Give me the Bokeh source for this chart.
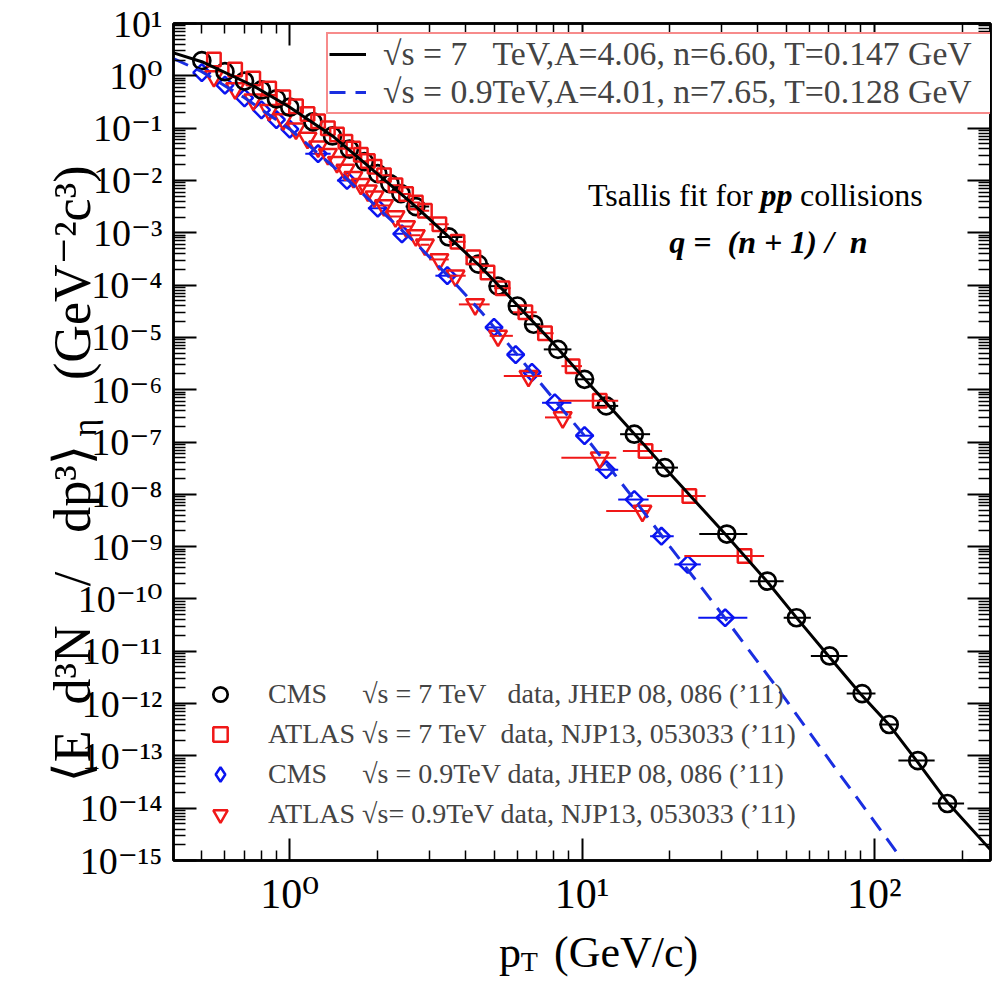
import numpy as np
from bokeh.plotting import figure
from bokeh.models import (FixedTicker, CustomJSTickFormatter, LogAxis, Legend,
                          LegendItem, Label)
from bokeh.embed import file_html
from bokeh.resources import INLINE

# ---------------- data ----------------
# CMS sqrt(s)=7 TeV  (black open circles)
cms7_pt = [0.5, 0.6, 0.7, 0.8, 0.9, 1.0, 1.2, 1.4, 1.6, 1.8, 2.0, 2.2, 2.4, 2.7, 3.5,
           4.42, 5.16, 6.01, 6.83, 8.27, 10.2, 12.1, 15.1, 19.2, 31.3, 43.1, 54.2,
           70.4, 90.9, 112.5, 141, 178]
cms7_y = [1.95, 1.20, 0.794, 0.537, 0.363, 0.251, 0.132, 0.0708, 0.0398, 0.0229,
          0.0135, 8.71e-3, 5.62e-3, 3.16e-3, 8.32e-4, 2.51e-4, 9.55e-5, 3.98e-5,
          1.78e-5, 5.89e-6, 1.58e-6, 4.90e-7, 1.41e-7, 3.24e-8, 1.74e-9, 2.19e-10,
          4.37e-11, 8.13e-12, 1.55e-12, 3.98e-13, 8.13e-14, 1.23e-14]
cms7_lo = [0.5, 0.6, 0.7, 0.8, 0.9, 1.0, 1.2, 1.4, 1.6, 1.8, 2.0, 2.2, 2.4, 2.49, 3.2,
           4.0, 4.8, 5.6, 6.4, 7.4, 9.6, 11.1, 13.5, 17.4, 25.2, 37.5, 49.0,
           60.7, 80.5, 104, 121, 158]
cms7_hi = [0.5, 0.6, 0.7, 0.8, 0.9, 1.0, 1.2, 1.4, 1.6, 1.8, 2.0, 2.2, 2.4, 3.0, 3.9,
           4.8, 5.6, 6.4, 7.2, 9.2, 11.0, 13.3, 17.1, 21.3, 36.8, 49.0, 60.7,
           81.0, 101, 121, 161, 203]

# ATLAS sqrt(s)=7 TeV  (red open squares)
atl7_pt = [0.55, 0.65, 0.75, 0.85, 0.95, 1.05, 1.15, 1.25, 1.35, 1.45, 1.55, 1.65,
           1.75, 1.85, 1.95, 2.1, 2.3, 2.5, 2.7, 2.9, 3.25, 3.75, 4.25, 4.75, 5.35,
           6.4, 7.47, 9.29, 11.5, 16.5, 23.3, 36.0]
atl7_y = [2.04, 1.32, 0.891, 0.575, 0.389, 0.263, 0.186, 0.135, 0.100, 0.0759,
          0.0550, 0.0407, 0.0309, 0.0234, 0.0182, 0.0126, 8.13e-3, 5.50e-3, 3.80e-3,
          2.63e-3, 1.45e-3, 6.76e-4, 3.39e-4, 1.74e-4, 8.71e-5, 3.02e-5, 1.20e-5,
          2.82e-6, 6.17e-7, 6.76e-8, 9.33e-9, 6.61e-10]
atl7_lo = [0.55, 0.65, 0.75, 0.85, 0.95, 1.05, 1.15, 1.25, 1.35, 1.45, 1.55, 1.65,
           1.75, 1.85, 1.95, 2.0, 2.2, 2.4, 2.6, 2.8, 3.0, 3.5, 4.0, 4.5, 5.0,
           5.8, 7.0, 8.5, 8.3, 13.8, 16.7, 22.4]
atl7_hi = [0.55, 0.65, 0.75, 0.85, 0.95, 1.05, 1.15, 1.25, 1.35, 1.45, 1.55, 1.65,
           1.75, 1.85, 1.95, 2.2, 2.4, 2.6, 2.8, 3.0, 3.5, 4.0, 4.5, 5.0, 5.7,
           7.0, 8.0, 10.0, 13.3, 18.8, 26.5, 42.0]

# CMS sqrt(s)=0.9 TeV  (blue open diamonds)
cms09_pt = [0.5, 0.6, 0.7, 0.8, 0.9, 1.0, 1.25, 1.57, 2.0, 2.42, 3.46, 5.0, 5.93,
            6.74, 8.07, 10.2, 12.1, 15.1, 18.7, 23.0, 30.9]
cms09_y = [1.15, 0.661, 0.380, 0.224, 0.145, 0.0955, 0.0324, 0.0100, 2.95e-3,
           9.55e-4, 1.51e-4, 1.55e-5, 4.68e-6, 2.14e-6, 5.62e-7, 1.32e-7, 2.95e-8,
           7.94e-9, 1.58e-9, 4.57e-10, 4.37e-11]
cms09_lo = [0.5, 0.6, 0.7, 0.8, 0.9, 1.0, 1.13, 1.45, 1.85, 2.25, 3.15, 4.7, 5.6,
            6.4, 7.3, 9.6, 11.1, 13.3, 17.1, 20.7, 25.0]
cms09_hi = [0.5, 0.6, 0.7, 0.8, 0.9, 1.0, 1.38, 1.70, 2.15, 2.60, 3.75, 5.3, 6.3,
            7.1, 9.2, 11.0, 13.3, 16.9, 20.6, 25.5, 36.8]

# ATLAS sqrt(s)=0.9 TeV  (red open down-triangles)
atl09_pt = [0.55, 0.65, 0.75, 0.85, 0.95, 1.05, 1.15, 1.25, 1.35, 1.45, 1.55, 1.65,
            1.75, 1.85, 1.95, 2.1, 2.3, 2.5, 2.7, 2.9, 3.25, 3.69, 4.31, 5.16, 6.56,
            8.59, 11.5, 16.1]
atl09_y = [0.977, 0.575, 0.350, 0.221, 0.147, 0.0977, 0.0646, 0.0443, 0.0316,
           0.0224, 0.0158, 0.0115, 8.51e-3, 6.38e-3, 4.90e-3, 3.31e-3, 2.04e-3,
           1.32e-3, 8.91e-4, 5.89e-4, 3.09e-4, 1.51e-4, 4.27e-5, 1.07e-5, 1.82e-6,
           2.95e-7, 5.01e-8, 4.79e-9]
atl09_lo = [0.55, 0.65, 0.75, 0.85, 0.95, 1.05, 1.15, 1.25, 1.35, 1.45, 1.55, 1.65,
            1.75, 1.85, 1.95, 2.0, 2.2, 2.4, 2.6, 2.8, 3.0, 3.5, 3.79, 4.83, 5.4,
            7.47, 8.5, 12.1]
atl09_hi = [0.55, 0.65, 0.75, 0.85, 0.95, 1.05, 1.15, 1.25, 1.35, 1.45, 1.55, 1.65,
            1.75, 1.85, 1.95, 2.2, 2.4, 2.6, 2.8, 3.0, 3.5, 4.0, 4.83, 5.8, 7.3,
            9.2, 13.1, 16.9]

# Tsallis fit curves
fit7_pt = [0.4, 0.5, 0.75, 1.0, 1.4, 2.0, 2.7, 3.5, 4.5, 6.0, 8.0, 10.2, 15, 20, 31,
           43, 55, 70, 90, 113, 140, 178, 250]
fit7_y = [2.75, 1.86, 0.646, 0.251, 0.0708, 0.0132, 3.16e-3, 8.32e-4, 2.24e-4,
          4.17e-5, 7.59e-6, 1.62e-6, 1.48e-7, 2.51e-8, 1.70e-9, 2.15e-10, 3.98e-11,
          7.94e-12, 1.51e-12, 3.8e-13, 7.94e-14, 1.3e-14, 1.6e-15]
fit09_pt = [0.4, 0.5, 0.7, 1.0, 1.4, 2.0, 2.7, 3.5, 4.5, 6.0, 8.0, 10.2, 15, 20, 31,
            48, 75, 100, 125, 135]
fit09_y = [2.14, 1.20, 0.380, 0.0955, 0.0191, 3.02e-3, 6.31e-4, 1.45e-4, 3.16e-5,
           4.68e-6, 6.61e-7, 1.32e-7, 8.32e-9, 1.0e-9, 4.17e-11, 1.58e-12, 5.01e-14,
           5.62e-15, 1.0e-15, 5.6e-16]

x_major = [1, 10, 100]
x_minor = [0.4, 0.5, 0.6, 0.7, 0.8, 0.9, 2, 3, 4, 5, 6, 7, 8, 9,
           20, 30, 40, 50, 60, 70, 80, 90, 200]
y_exponents = list(range(-15, 2))

NB = "\u00a0"
fit7_label = "√s = 7" + NB * 3 + "TeV,A=4.06, n=6.60, T=0.147 GeV"
fit09_label = "√s = 0.9TeV,A=4.01, n=7.65, T=0.128 GeV"
leg_labels = ["CMS" + NB * 5 + "√s = 7 TeV" + NB * 3 + "data, JHEP 08, 086 (’11)",
              "ATLAS √s = 7 TeV" + NB * 2 + "data, NJP13, 053033 (’11)",
              "CMS" + NB * 5 + "√s = 0.9TeV data, JHEP 08, 086 (’11)",
              "ATLAS √s= 0.9TeV data, NJP13, 053033 (’11)"]
x_title = "p" + NB * 3 + "(GeV/c)"
x_title_sub = "T"
y_title = ("⟨E" + NB * 2 + "d³N" + NB * 3 + "/" + NB * 3 + "dp³⟩" + NB * 5 + "(GeV⁻²c³)")
y_title_sub = "η"

# ---------------- figure ----------------
FONT = "Liberation Serif, DejaVu Serif"
W, H = 992, 978
PG = 8
FL, FR, FT, FB = 170, 998, 31, 868          # frame edges in page pixels
XMIN, XMAX, YMIN, YMAX = 0.4, 250.0, 1e-15, 10.0

p = figure(width=W, height=H, x_axis_type="log", y_axis_type="log",
           x_range=(XMIN, XMAX), y_range=(YMIN, YMAX),
           output_backend="svg", toolbar_location=None,
           min_border_left=FL - PG, min_border_right=W - (FR - PG),
           min_border_top=FT - PG, min_border_bottom=H - (FB - PG))
p.grid.visible = False
p.outline_line_color = "black"
p.outline_line_width = 2.5
p.background_fill_color = "white"
p.border_fill_color = "white"


def px_x(X):
    lx0, lx1 = np.log10(XMIN), np.log10(XMAX)
    return 10 ** (lx0 + (X - FL) / (FR - FL) * (lx1 - lx0))


def px_y(Y):
    ly0, ly1 = np.log10(YMIN), np.log10(YMAX)
    return 10 ** (ly1 - (Y - FT) / (FB - FT) * (ly1 - ly0))


xt = FixedTicker(ticks=x_major, minor_ticks=x_minor)
yt = FixedTicker(ticks=[10.0 ** e for e in y_exponents],
                 minor_ticks=[m * 10.0 ** e for e in y_exponents[:-1] for m in range(2, 10)])

sup_code = """
const e = Math.round(Math.log10(tick));
const m = {"-":"\\u207b","0":"\\u2070","1":"\\u00b9","2":"\\u00b2","3":"\\u00b3",
           "4":"\\u2074","5":"\\u2075","6":"\\u2076","7":"\\u2077","8":"\\u2078","9":"\\u2079"};
let s = "";
for (const c of String(e)) { s += m[c]; }
return "10" + s;
"""


def style_axis(ax, ticker, show, fsize, standoff, major_len, minor_len):
    ax.ticker = ticker
    ax.axis_line_width = 2.5
    ax.axis_line_color = "black"
    ax.major_tick_line_width = 2
    ax.minor_tick_line_width = 1.5
    ax.major_tick_in = major_len
    ax.major_tick_out = 0
    ax.minor_tick_in = minor_len
    ax.minor_tick_out = 0
    if show:
        ax.formatter = CustomJSTickFormatter(code=sup_code)
        ax.major_label_text_font = FONT
        ax.major_label_text_font_size = fsize
        ax.major_label_text_color = "black"
        ax.major_label_standoff = standoff
    else:
        ax.formatter = CustomJSTickFormatter(code="return '';")
        ax.major_label_text_font_size = "0px"
        ax.major_label_standoff = 0


style_axis(p.xaxis[0], xt, True, "42px", 10, 22, 10)
style_axis(p.yaxis[0], yt, True, "38px", 11, 23, 12)
top_ax = LogAxis()
right_ax = LogAxis()
style_axis(top_ax, xt, False, "0px", 0, 22, 10)
style_axis(right_ax, yt, False, "0px", 0, 23, 12)
p.add_layout(top_ax, "above")
p.add_layout(right_ax, "right")

# ---------------- data marks ----------------
RED = "#f01818"
BLUE = "#0a14f0"
p.segment(x0=cms09_lo, y0=cms09_y, x1=cms09_hi, y1=cms09_y, line_color=BLUE, line_width=2)
p.scatter(cms09_pt, cms09_y, marker="square", angle=np.pi / 4, size=12,
          line_color=BLUE, line_width=2.5, fill_color=None)
p.segment(x0=atl09_lo, y0=atl09_y, x1=atl09_hi, y1=atl09_y, line_color=RED, line_width=2)
r_t = p.scatter(atl09_pt, atl09_y, marker="inverted_triangle", size=18,
                line_color=RED, line_width=2.5, fill_color=None)
p.segment(x0=cms7_lo, y0=cms7_y, x1=cms7_hi, y1=cms7_y, line_color="black", line_width=2)
r_c = p.scatter(cms7_pt, cms7_y, marker="circle", size=17,
                line_color="black", line_width=2.7, fill_color=None)
p.segment(x0=atl7_lo, y0=atl7_y, x1=atl7_hi, y1=atl7_y, line_color=RED, line_width=2)
r_s = p.scatter(atl7_pt, atl7_y, marker="square", size=13.5,
                line_color=RED, line_width=2.5, fill_color=None)
# hidden copy of the CMS 0.9 TeV points, used only for the legend's diamond symbol
r_dleg = p.scatter(cms09_pt, cms09_y, marker="diamond", size=14,
                   line_color=BLUE, line_width=2.5, fill_color=None, visible=False)

l7 = p.line(fit7_pt, fit7_y, line_color="black", line_width=3)
l09 = p.line(fit09_pt, fit09_y, line_color="#1a2ee0", line_width=3, line_dash="16 10")

# ---------------- legends ----------------
leg1 = Legend(items=[LegendItem(label=fit7_label, renderers=[l7]),
                     LegendItem(label=fit09_label, renderers=[l09])],
              location=(323 - FL, FB - 122),
              label_text_font=FONT, label_text_font_size="33.7px",
              glyph_width=37, glyph_height=30, label_standoff=17, label_width=606,
              padding=1, spacing=-9, margin=0,
              border_line_color=RED, border_line_width=2,
              background_fill_color="white", background_fill_alpha=1.0)
p.add_layout(leg1)

leg2 = Legend(items=[LegendItem(label=leg_labels[0], renderers=[r_c]),
                     LegendItem(label=leg_labels[1], renderers=[r_s]),
                     LegendItem(label=leg_labels[2], renderers=[r_dleg]),
                     LegendItem(label=leg_labels[3], renderers=[r_t])],
              location=(199 - FL, FB - 840),
              label_text_font=FONT, label_text_font_size="28px",
              glyph_width=36, glyph_height=36, label_standoff=30,
              padding=0, spacing=4, margin=0,
              border_line_color=None, background_fill_alpha=0.0,
              inactive_fill_alpha=0.0)
p.add_layout(leg2)


# ---------------- texts ----------------
def lab(text, X, Y, size, style="normal", align="left", baseline="alphabetic",
        angle=0, place=None):
    l = Label(x=px_x(X), y=px_y(Y), x_units="data", y_units="data", text=text,
              text_font=FONT, text_font_size=size, text_font_style=style,
              text_align=align, text_baseline=baseline, text_color="black",
              angle=angle, angle_units="deg")
    if place is None:
        p.add_layout(l)
    else:
        p.add_layout(l, place)


lab("Tsallis fit for", 590, 202, "32px")
lab("pp", 765, 202, "32px", "bold italic")
lab("collisions", 805, 202, "32px")
lab("q =" + NB * 2 + "(n + 1) /" + NB * 2 + "n", 773, 249, "32px", "bold italic", "center")

# axis titles live in the side panels (outside the frame)
lab(x_title, 500, 960, "44px", place="below")
lab(x_title_sub, 522, 969, "28px", place="left")
lab(y_title, 68, 790, "52px", angle=90, place="left")
lab(y_title_sub, 80, 444, "34px", angle=90, place="above")

open("out.html", "w").write(file_html(p, INLINE))
